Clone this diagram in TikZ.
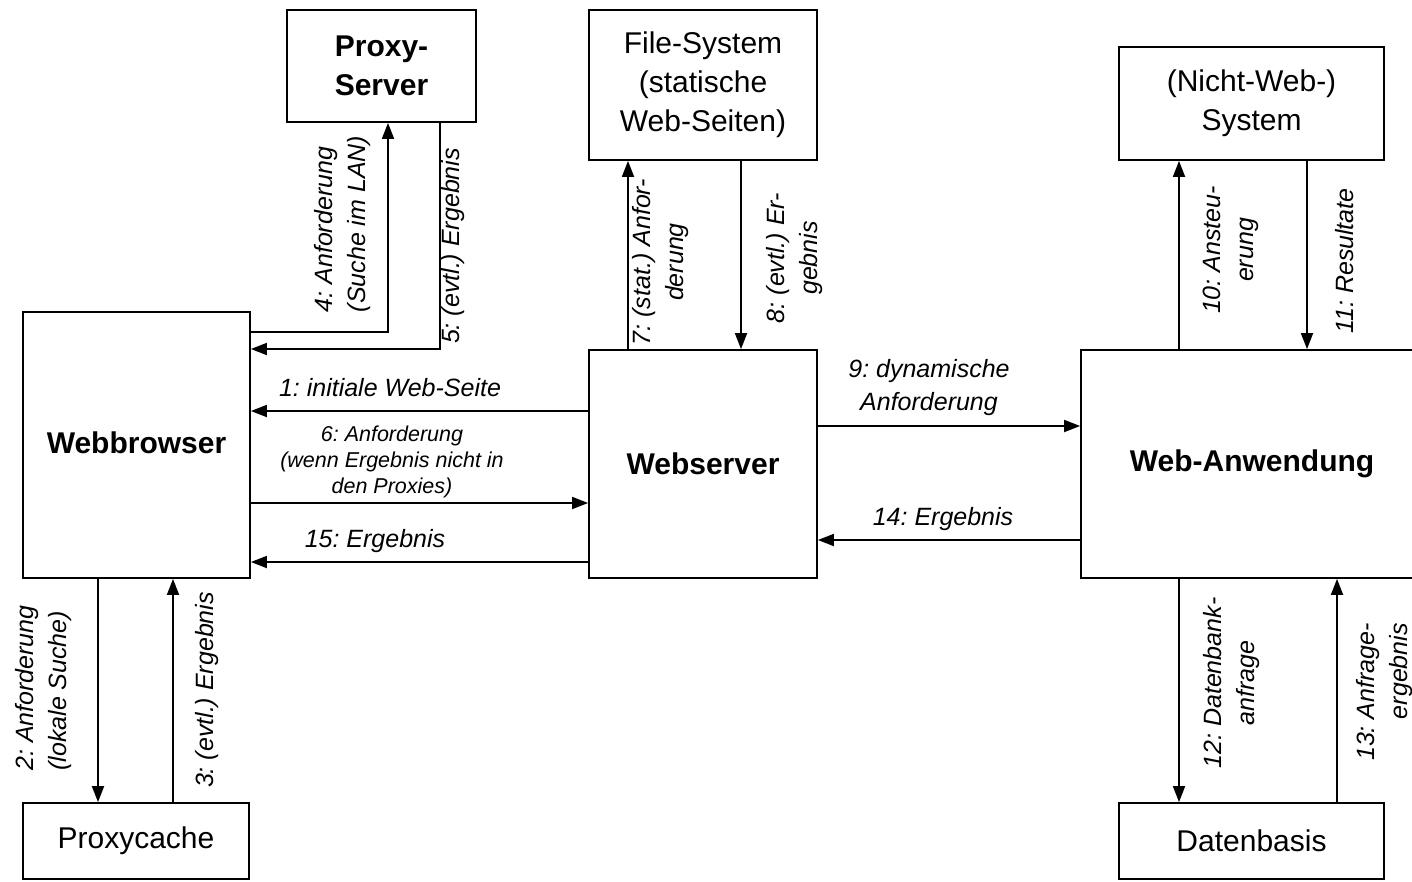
\documentclass[tikz,border=0pt]{standalone}
\usepackage{fontspec}
\setmainfont{Liberation Sans}
\usetikzlibrary{arrows.meta}
\frenchspacing
\begin{document}
\begin{tikzpicture}[x=1pt,y=-1pt,
  box/.style={draw,line width=1.8pt,align=center,inner sep=0pt,font=\fontsize{30}{39}\selectfont},
  bbox/.style={box,font=\fontsize{30}{39}\selectfont\bfseries},
  arr/.style={line width=1.8pt,-{Triangle[length=16pt,width=12pt]}},
  lab/.style={font=\fontsize{25}{33}\selectfont\itshape,inner sep=0pt},
  slab/.style={font=\fontsize{21.5}{26}\selectfont\itshape,inner sep=0pt,align=center},
  vlab/.style={lab,rotate=90}]
\useasboundingbox (0,0) rectangle (1412,881);
\clip (0,0) rectangle (1412,881);
% boxes
\node[bbox,minimum width=189pt,minimum height=112pt] (ps) at (381.5,66) {Proxy-\\Server};
\node[box,minimum width=228pt,minimum height=150pt] (fs) at (703,85) {File-System\\(statische\\Web-Seiten)};
\node[box,minimum width=265pt,minimum height=113pt] (nw) at (1251.5,103.5) {(Nicht-Web-)\\System};
\node[bbox,minimum width=227pt,minimum height=266pt] (wb) at (136.5,445) {\raisebox{4pt}{Webbrowser}};
\node[bbox,minimum width=228pt,minimum height=228pt] (ws) at (703,464) {Webserver};
\node[bbox,minimum width=342pt,minimum height=228pt] (wa) at (1252,464) {Web-Anwendung};
\node[box,minimum width=226pt,minimum height=76pt] (pc) at (136,841) {Proxycache};
\node[box,minimum width=265pt,minimum height=76pt] (db) at (1251.5,841) {Datenbasis};
% connectors
\draw[arr] (wb.east |- 0,332) -| (ps.south -| 388,0);
\draw[arr] (ps.south -| 440,0) |- (wb.east |- 0,349);
\draw[arr] (ws.west |- 0,411) -- (wb.east |- 0,411);
\draw[arr] (wb.east |- 0,503) -- (ws.west |- 0,503);
\draw[arr] (ws.west |- 0,562) -- (wb.east |- 0,562);
\draw[arr] (ws.north -| 628,0) -- (fs.south -| 628,0);
\draw[arr] (fs.south -| 741,0) -- (ws.north -| 741,0);
\draw[arr] (ws.east |- 0,426) -- (wa.west |- 0,426);
\draw[arr] (wa.west |- 0,540) -- (ws.east |- 0,540);
\draw[arr] (wa.north -| 1179,0) -- (nw.south -| 1179,0);
\draw[arr] (nw.south -| 1307,0) -- (wa.north -| 1307,0);
\draw[arr] (wa.south -| 1179,0) -- (db.north -| 1179,0);
\draw[arr] (db.north -| 1337,0) -- (wa.south -| 1337,0);
\draw[arr] (wb.south -| 98,0) -- (pc.north -| 98,0);
\draw[arr] (pc.north -| 173,0) -- (wb.south -| 173,0);
% horizontal labels
\node[lab,anchor=base] (l1) at (390,396) {1: initiale Web-Seite};
\node[slab] (l6) at (392,462) {6: Anforderung\\(wenn Ergebnis nicht in\\den Proxies)};
\node[lab,anchor=base] (l15) at (375,547) {15: Ergebnis};
\node[lab,align=center] (l9) at (929,388) {9: dynamische\\Anforderung};
\node[lab,anchor=base] (l14) at (943,525) {14: Ergebnis};
% vertical labels
\node[vlab,align=left] (l4) at (343,224) {4: Anforderung\\(Suche im LAN)};
\node[vlab] (l5) at (453,246) {5: (evtl.) Ergebnis};
\node[vlab,align=center] (l7) at (661,262) {7: (stat.) Anfor-\\derung};
\node[vlab,align=center] (l8) at (795,258) {8: (evtl.) Er-\\gebnis};
\node[vlab,align=center] (l10) at (1231,250) {10: Ansteu-\\erung};
\node[vlab] (l11) at (1345,261) {11: Resultate};
\node[vlab,align=center] (l12) at (1232,683) {12: Datenbank-\\anfrage};
\node[vlab,align=right] (l13) at (1385,692) {13: Anfrage-\\ergebnis};
\node[vlab,align=left] (l2) at (44,688) {2: Anforderung\\(lokale Suche)};
\node[vlab] (l3) at (207,690) {3: (evtl.) Ergebnis};
\end{tikzpicture}
\end{document}
